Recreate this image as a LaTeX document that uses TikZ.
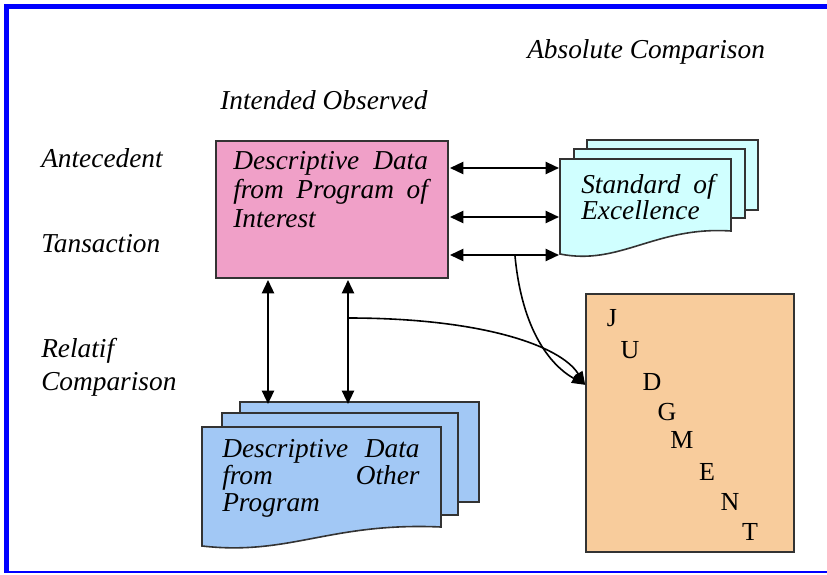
\documentclass[tikz,border=0pt]{standalone}
\usepackage{fontspec}
\setmainfont{Liberation Serif}
\usetikzlibrary{arrows.meta}

\definecolor{obspink}{RGB}{240,160,200}
\definecolor{stdcyan}{RGB}{208,255,255}
\definecolor{othblue}{RGB}{162,200,245}
\definecolor{jdgorange}{RGB}{248,204,156}

\tikzset{
  ital/.style={font=\fontsize{20.5}{#1}\selectfont\itshape},
  ital/.default=21,
  lbl/.style={ital, inner sep=0pt, anchor=base west},
  box/.style={draw=black!80, line width=1.2pt},
  page/.style={box, fill=#1},
  letter/.style={font=\fontsize{19.5}{20}\selectfont, inner sep=0pt},
  link/.style={line width=1.6pt, {Triangle[length=10pt,width=9pt]}-{Triangle[length=10pt,width=9pt]}},
  flow/.style={line width=1.2pt, -{Triangle[length=10pt,width=7.5pt]}}
}

\begin{document}
\begin{tikzpicture}[x=0.75pt,y=-0.75pt]
        \useasboundingbox (0,0) rectangle (827,574);

        % frame
        \draw[blue, line width=3.75pt] (827,7) -- (6.5,7) -- (6.5,572);
        \draw[blue, line width=1.2pt] (4,572) -- (827,572);

        % headings and row labels
        \node[lbl] at (527,59) (abs) {Absolute Comparison};
        \node[lbl] at (220,110) (io) {Intended Observed};
        \node[lbl] at (41,167) (ant) {Antecedent};
        \node[lbl] at (41,252) (tra) {Tansaction};
        \node[lbl] at (41,357) (rel) {Relatif};
        \node[lbl] at (41,390) (relc) {Comparison};

        % program of interest
        \node[box, fill=obspink, anchor=north west, minimum width=174pt, minimum height=102.75pt] at (215,140) (obs) {};
        \node[lbl, ital=21.4, text width=146pt] at (233,170) (obst) {Descriptive\hfill Data\\from\hfill Program\hfill of\\Interest};

        % standard of excellence
        \draw[page=stdcyan] (587,140) rectangle (758,210);
        \draw[page=stdcyan] (574,149) rectangle (745,218);
        \draw[page=stdcyan] (560,159) -- (731,159) -- (731,231) .. controls (655,226) and (620,266) .. (560,254) -- cycle;
        \node[lbl, ital=18, text width=100pt] at (581,193) (std) {Standard\hfill of\\Excellence};
        \coordinate (s1) at (559,168);
        \coordinate (s2) at (559,217);
        \coordinate (s3) at (559,255);

        % other program
        \draw[page=othblue] (240,402) rectangle (479,502);
        \draw[page=othblue] (222,413) rectangle (458,515);
        \draw[page=othblue] (202,427) -- (441,427) -- (441,527) .. controls (330,522) and (290,556) .. (202,546) -- cycle;
        \node[lbl, ital=20.6, text width=148pt] at (222,457) (oth) {Descriptive\hfill Data\\from\hfill Other\\Program};
        \coordinate (o1) at (268,404);
        \coordinate (o2) at (348,404);

        % judgment
        \node[box, fill=jdgorange, minimum width=156pt, minimum height=193.5pt] at (690,423) (jdg) {};
        \node[letter] at (612,318) (j1) {J};
        \node[letter] at (630,350) (j2) {U};
        \node[letter] at (652,382) (j3) {D};
        \node[letter] at (667,412) (j4) {G};
        \node[letter] at (682,440) (j5) {M};
        \node[letter] at (707,472) (j6) {E};
        \node[letter] at (730,502) (j7) {N};
        \node[letter] at (750,532) (j8) {T};

        % connections
        \draw[link] ([xshift=1pt]obs.east |- s1) -- (s1);
        \draw[link] ([xshift=1pt]obs.east |- s2) -- (s2);
        \draw[link] ([xshift=1pt]obs.east |- s3) -- (s3);
        \draw[link] ([yshift=-1pt]obs.south -| o1) -- (o1);
        \draw[link] ([yshift=-1pt]obs.south -| o2) -- (o2);

        \coordinate (b1) at (348,318);
        \coordinate (b2) at (515,256);
        \draw[flow] (b1) .. controls (480,318) and (560,345) .. (jdg.160);
        \draw[flow] (b2) .. controls (522,330) and (550,365) .. (jdg.160);
\end{tikzpicture}
\end{document}
